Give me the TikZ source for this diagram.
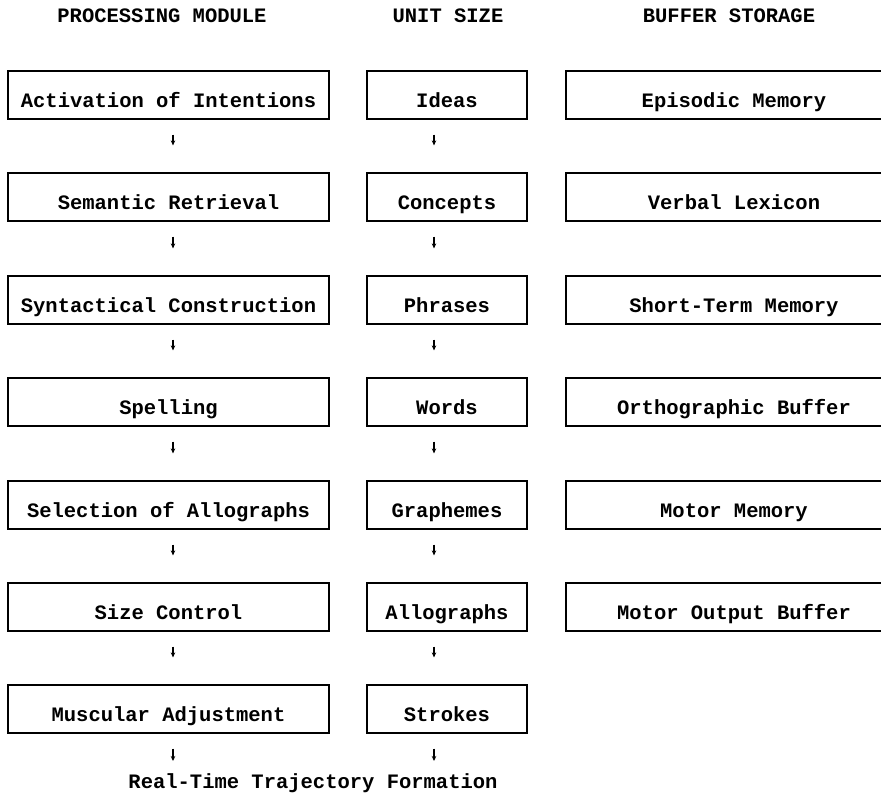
\documentclass[tikz,border=0pt]{standalone}
\usepackage{fontspec}
\setmonofont{Liberation Mono}
\usetikzlibrary{arrows.meta}

\begin{document}
\begin{tikzpicture}[x=1pt,y=-1pt]
\tikzstyle{every node}+=[inner sep=0pt,font=\ttfamily\bfseries\fontsize{20.5}{24}\selectfont]
\tikzstyle{modbox}=[draw=black,line width=1.2pt,minimum height=48pt,text height=24pt,text depth=0pt]
\tikzstyle{flow}=[black,line width=1.4pt,-{Stealth[length=5pt,width=4.5pt]},shorten <=15pt,shorten >=27pt]
\useasboundingbox (0,0) rectangle (881,803);
% headings
\draw (162,22) node [anchor=base] (hproc) {PROCESSING MODULE};
\draw (448,22) node [anchor=base] (hunit) {UNIT SIZE};
\draw (729,22) node [anchor=base] (hbuf) {BUFFER STORAGE};
% processing modules
\draw (168.5,95) node [modbox,minimum width=321pt] (p1) {Activation of Intentions};
\draw (168.5,197) node [modbox,minimum width=321pt] (p2) {Semantic Retrieval};
\draw (168.5,300) node [modbox,minimum width=321pt] (p3) {Syntactical Construction};
\draw (168.5,402) node [modbox,minimum width=321pt] (p4) {Spelling};
\draw (168.5,505) node [modbox,minimum width=321pt] (p5) {Selection of Allographs};
\draw (168.5,607) node [modbox,minimum width=321pt] (p6) {Size Control};
\draw (168.5,709) node [modbox,minimum width=321pt] (p7) {Muscular Adjustment};
% unit sizes
\draw (447,95) node [modbox,minimum width=160pt] (u1) {Ideas};
\draw (447,197) node [modbox,minimum width=160pt] (u2) {Concepts};
\draw (447,300) node [modbox,minimum width=160pt] (u3) {Phrases};
\draw (447,402) node [modbox,minimum width=160pt] (u4) {Words};
\draw (447,505) node [modbox,minimum width=160pt] (u5) {Graphemes};
\draw (447,607) node [modbox,minimum width=160pt] (u6) {Allographs};
\draw (447,709) node [modbox,minimum width=160pt] (u7) {Strokes};
% buffers
\draw (734,95) node [modbox,minimum width=336pt] (b1) {Episodic Memory};
\draw (734,197) node [modbox,minimum width=336pt] (b2) {Verbal Lexicon};
\draw (734,300) node [modbox,minimum width=336pt] (b3) {Short-Term Memory};
\draw (734,402) node [modbox,minimum width=336pt] (b4) {Orthographic Buffer};
\draw (734,505) node [modbox,minimum width=336pt] (b5) {Motor Memory};
\draw (734,607) node [modbox,minimum width=336pt] (b6) {Motor Output Buffer};
% output
\draw (313,788) node [anchor=base] (rt) {Real-Time Trajectory Formation};
\coordinate (pend) at (173,761);
\coordinate (uend) at (434,761);
% arrows
\draw [flow] ([xshift=4.5pt]p1.south) -- ([xshift=4.5pt]p2.north);
\draw [flow] ([xshift=4.5pt]p2.south) -- ([xshift=4.5pt]p3.north);
\draw [flow] ([xshift=4.5pt]p3.south) -- ([xshift=4.5pt]p4.north);
\draw [flow] ([xshift=4.5pt]p4.south) -- ([xshift=4.5pt]p5.north);
\draw [flow] ([xshift=4.5pt]p5.south) -- ([xshift=4.5pt]p6.north);
\draw [flow] ([xshift=4.5pt]p6.south) -- ([xshift=4.5pt]p7.north);
\draw [flow,shorten >=0pt] ([xshift=4.5pt]p7.south) -- (pend);
\draw [flow] ([xshift=-13pt]u1.south) -- ([xshift=-13pt]u2.north);
\draw [flow] ([xshift=-13pt]u2.south) -- ([xshift=-13pt]u3.north);
\draw [flow] ([xshift=-13pt]u3.south) -- ([xshift=-13pt]u4.north);
\draw [flow] ([xshift=-13pt]u4.south) -- ([xshift=-13pt]u5.north);
\draw [flow] ([xshift=-13pt]u5.south) -- ([xshift=-13pt]u6.north);
\draw [flow] ([xshift=-13pt]u6.south) -- ([xshift=-13pt]u7.north);
\draw [flow,shorten >=0pt] ([xshift=-13pt]u7.south) -- (uend);
\end{tikzpicture}
\end{document}
